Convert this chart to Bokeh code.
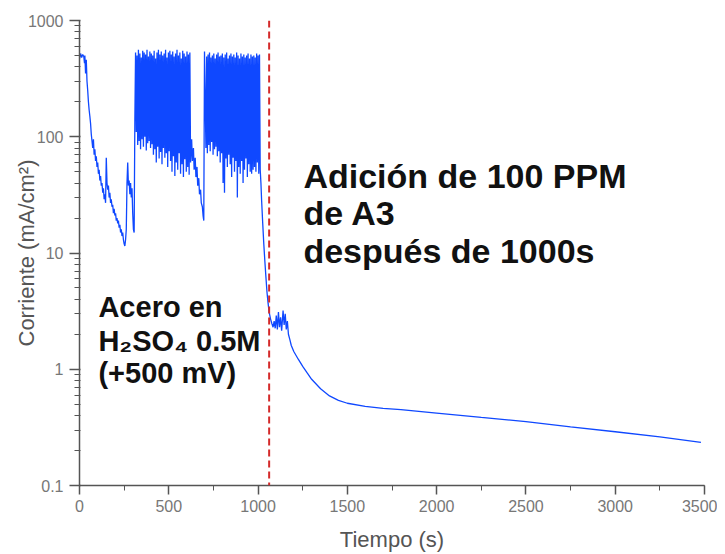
from bokeh.plotting import figure
from bokeh.models import Span, Label, FixedTicker, SingleIntervalTicker, CustomJSTickFormatter
from bokeh.embed import file_html
from bokeh.resources import INLINE

# ---- data ----
# phase 1: before the first burst of spikes
t_phase1 = [0, 6, 12, 18, 24, 28, 30, 34, 38, 42, 46, 50, 54, 58, 62, 66, 70, 74, 78, 82,
            86, 90, 94, 98, 102, 106, 110, 114, 118, 122, 126, 130, 134, 138, 142, 146, 150,
            154, 158, 162, 166, 170, 174, 178, 182, 186, 190, 194, 198, 202, 206, 210, 214,
            218, 222, 226, 230, 234, 238, 242, 246, 250, 254, 258, 262, 266, 270, 274, 278,
            282, 286, 290, 294, 298, 302, 306, 310]
i_phase1 = [470, 520, 480, 510, 490, 430, 500, 350, 460, 300, 250, 200, 170, 150, 130, 105,
            92, 80, 95, 70, 78, 62, 68, 55, 60, 48, 52, 42, 46, 38, 40, 33, 36, 29, 32, 27,
            66, 40, 35, 38, 30, 33, 27, 29, 25, 26, 22, 24, 21, 22, 19, 20, 18, 19, 16.5,
            17.5, 15, 16, 14, 15, 13, 12, 11.5, 13, 16, 40, 60, 38, 42, 32, 40, 30, 36, 22,
            16, 15, 140]

# phase 2: first burst of spikes (peak / trough pairs)
t_phase2 = [314, 318, 322, 326, 330, 334, 338, 342, 346, 350, 354, 358, 362, 366, 370, 374,
            378, 382, 386, 390, 394, 398, 402, 406, 410, 414, 418, 422, 426, 430, 434, 438,
            442, 446, 450, 454, 458, 462, 466, 470, 474, 478, 482, 486, 490, 494, 498, 502,
            506, 510, 514, 518, 522, 526, 530, 534, 538, 542, 546, 550, 554, 558, 562, 566,
            570, 574, 578, 582, 586, 590, 594, 598, 602, 606, 610, 614, 618, 622]
i_phase2 = [530, 110, 500, 85, 560, 92, 520, 78, 480, 95, 550, 82, 530, 100, 510, 76,
            560, 88, 490, 92, 540, 80, 520, 86, 500, 70, 550, 78, 470, 60, 530, 82,
            560, 65, 510, 74, 540, 58, 500, 80, 520, 66, 560, 72, 480, 55, 530, 75,
            550, 62, 510, 50, 540, 68, 490, 46, 520, 60, 560, 52, 500, 72, 530, 48,
            470, 58, 550, 45, 520, 64, 490, 50, 540, 55, 510, 47, 530, 60]

# decay between the two bursts
t_gap = [628, 632, 638, 642, 648, 652, 658, 662, 668, 672, 678, 682, 688, 692, 696]
i_gap = [95, 62, 80, 52, 66, 45, 55, 38, 44, 32, 35, 27, 25, 21, 19]

# phase 3: second burst of spikes
t_phase3 = [700, 708, 712, 716, 720, 724, 728, 732, 736, 740, 744, 748, 752, 756, 760, 764,
            768, 772, 776, 780, 784, 788, 792, 796, 800, 804, 808, 812, 816, 820, 824, 828,
            832, 836, 840, 844, 848, 852, 856, 860, 864, 868, 872, 876, 880, 884, 888, 892,
            896, 900, 904, 908, 912, 916, 920, 924, 928, 932, 936, 940, 944, 948, 952, 956,
            960, 964, 968, 972, 976, 980, 984, 988, 992, 996, 1000, 1004, 1008, 1012]
i_phase3 = [540, 80, 490, 72, 510, 85, 530, 75, 480, 90, 500, 70, 520, 78, 470, 82,
            510, 68, 530, 75, 490, 60, 500, 72, 520, 40, 480, 33, 510, 65, 530, 55,
            470, 70, 500, 58, 520, 45, 490, 66, 510, 50, 480, 62, 530, 30, 500, 55,
            470, 48, 520, 62, 490, 40, 510, 52, 480, 65, 500, 45, 520, 58, 470, 50,
            510, 48, 490, 52, 500, 55, 480, 50, 520, 60, 500, 48, 510, 52]

# after the inhibitor addition
t_after = [1016, 1020, 1026, 1032, 1038, 1044, 1050, 1056, 1062, 1070, 1078, 1084, 1090,
           1096, 1102, 1108, 1114, 1120, 1126, 1132, 1140, 1146, 1152, 1158, 1164, 1170,
           1178, 1186, 1200, 1225, 1250, 1275, 1300, 1350, 1400, 1450, 1500, 1600, 1700,
           1800, 2000, 2250, 2500, 2750, 3000, 3250, 3480]
i_after = [40, 28, 18, 12, 8.5, 6.2, 4.6, 3.7, 3.1, 2.7, 2.45, 2.3, 2.6, 2.25, 2.9, 2.2,
           3.1, 2.3, 2.8, 2.15, 3.2, 2.4, 3.0, 2.2, 2.6, 2.0, 1.8, 1.6, 1.42, 1.22, 1.06,
           0.93, 0.82, 0.68, 0.59, 0.54, 0.51, 0.48, 0.46, 0.45, 0.42, 0.385, 0.355, 0.32,
           0.29, 0.262, 0.235]

addition_time = 1062
y_major = [0.1, 1, 10, 100, 1000]

time = t_phase1 + t_phase2 + t_gap + t_phase3 + t_after
current = i_phase1 + i_phase2 + i_gap + i_phase3 + i_after

# ---- figure ----
p = figure(width=717, height=554, x_range=(0, 3500), y_range=(0.1, 1000),
           y_axis_type="log", output_backend="svg", toolbar_location=None,
           min_border_left=79, min_border_right=13, min_border_top=20,
           min_border_bottom=68)
p.outline_line_color = None
p.grid.visible = False
p.background_fill_color = "white"
p.border_fill_color = "white"

p.line(time, current, line_color="#0f48ff", line_width=1.3)

p.add_layout(Span(location=addition_time, dimension="height", line_color="#d42a2a",
                  line_width=2, line_dash="7 4"))

# axes
minor = [d * m for d in [0.1, 1, 10, 100] for m in range(2, 10)]
p.yaxis.ticker = FixedTicker(ticks=y_major, minor_ticks=minor)
p.yaxis.formatter = CustomJSTickFormatter(code="return String(tick);")
p.xaxis.ticker = SingleIntervalTicker(interval=500, num_minor_ticks=2)

for ax in (p.xaxis[0], p.yaxis[0]):
    ax.axis_line_color = "#555555"
    ax.axis_line_width = 1.5
    ax.major_tick_line_color = "#555555"
    ax.minor_tick_line_color = "#555555"
    ax.major_tick_line_width = 1.5
    ax.major_label_text_font = "Liberation Sans"
    ax.major_label_text_font_size = "16px"
    ax.major_label_text_color = "#777777"
    ax.axis_label_text_font = "Liberation Sans"
    ax.axis_label_text_font_style = "normal"
    ax.axis_label_text_font_size = "22px"
    ax.axis_label_text_color = "#555555"

p.yaxis.major_tick_out = 10
p.yaxis.major_tick_in = 1
p.yaxis.minor_tick_out = 5
p.yaxis.minor_tick_in = 1
p.yaxis.major_label_standoff = 6
p.yaxis.axis_label = "Corriente (mA/cm²)"
p.yaxis.axis_label_standoff = -14

p.xaxis.major_tick_out = 9
p.xaxis.major_tick_in = 0
p.xaxis.minor_tick_out = 5
p.xaxis.minor_tick_in = 0
p.xaxis.major_label_standoff = 5
p.xaxis.axis_label = "Tiempo (s)"
p.xaxis.axis_label_standoff = 12

# annotations
big = dict(text_font="Liberation Sans", text_font_style="bold", text_color="#111111")
for txt, yv in [("Adición de 100 PPM", 31.4), ("de A3", 15.2), ("después de 1000s", 7.15)]:
    p.add_layout(Label(x=1254, y=yv, text=txt, text_font_size="34px", **big))
for txt, yv in [("Acero en", 2.51), ("H₂SO₄ 0.5M", 1.28), ("(+500 mV)", 0.67)]:
    p.add_layout(Label(x=106, y=yv, text=txt, text_font_size="29px", **big))

open("out.html", "w").write(file_html(p, INLINE))
